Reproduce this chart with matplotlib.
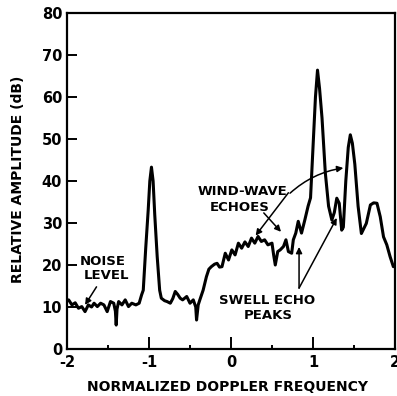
import matplotlib
matplotlib.use("Agg")
import matplotlib.pyplot as plt
from matplotlib.ticker import MultipleLocator

# ---- data ----
freq = [-2.00, -1.98, -1.94, -1.90, -1.86, -1.82, -1.78, -1.74, -1.70, -1.67,
        -1.63, -1.59, -1.55, -1.51, -1.47, -1.43, -1.41, -1.40, -1.39, -1.37,
        -1.33, -1.29, -1.25, -1.21, -1.16, -1.12, -1.09, -1.07, -1.04, -1.01,
        -0.99, -0.97, -0.95, -0.93, -0.90, -0.87, -0.85, -0.81, -0.78, -0.74,
        -0.71, -0.68, -0.65, -0.62, -0.59, -0.54, -0.50, -0.46, -0.43, -0.42,
        -0.40, -0.38, -0.34, -0.30, -0.27, -0.24, -0.20, -0.17, -0.14, -0.11,
        -0.07, -0.03, 0.01, 0.05, 0.09, 0.13, 0.17, 0.21, 0.25, 0.29,
        0.33, 0.37, 0.41, 0.45, 0.50, 0.52, 0.54, 0.57, 0.60, 0.64,
        0.67, 0.70, 0.74, 0.76, 0.79, 0.82, 0.86, 0.90, 0.94, 0.97,
        1.00, 1.03, 1.055, 1.08, 1.11, 1.15, 1.19, 1.23, 1.26, 1.29,
        1.32, 1.35, 1.37, 1.40, 1.43, 1.455, 1.48, 1.51, 1.55, 1.59,
        1.61, 1.65, 1.70, 1.74, 1.78, 1.82, 1.86, 1.90, 1.94, 1.98, 2.00]
amp = [11.5, 11.7, 10.5, 11.0, 9.7, 10.1, 8.9, 10.5, 10.0, 10.9,
       10.1, 10.9, 10.5, 8.9, 11.3, 10.9, 9.0, 5.7, 9.5, 11.3,
       10.5, 11.7, 10.1, 10.9, 10.5, 10.9, 12.9, 14.0, 24.0, 33.0,
       40.0, 43.3, 40.0, 32.0, 22.0, 14.0, 12.1, 11.5, 11.3, 10.9,
       12.0, 13.7, 13.0, 12.1, 11.7, 12.5, 10.9, 11.7, 10.0, 6.9,
       10.5, 11.7, 14.0, 17.2, 19.0, 19.6, 20.2, 20.4, 19.5, 19.6,
       22.8, 21.2, 23.6, 22.4, 25.2, 24.0, 25.5, 24.4, 26.4, 25.2,
       26.8, 25.6, 26.0, 24.8, 25.2, 22.4, 20.0, 23.2, 23.6, 24.4,
       26.0, 23.2, 22.8, 26.0, 27.6, 30.4, 27.6, 30.7, 34.0, 36.0,
       48.0, 60.0, 66.4, 62.0, 55.0, 42.0, 34.0, 30.7, 32.5, 35.9,
       34.7, 28.3, 29.0, 40.0, 48.0, 51.0, 49.0, 44.0, 34.0, 27.5,
       28.3, 29.9, 34.3, 34.8, 34.7, 31.5, 26.7, 24.8, 22.0, 19.6, 20.0]

xticks = [-2, -1, 0, 1, 2]
xticklabels = ["-2", "-1", "0", "1", "2"]
yticks = [0, 10, 20, 30, 40, 50, 60, 70, 80]

fig = plt.figure(figsize=(3.97, 3.96), dpi=100)
ax = fig.add_axes([67/397, 47/396, 328/397, 336/396])

ax.plot(freq, amp, color="black", lw=2.2, solid_joinstyle="round")

ax.set_xlim(-2, 2)
ax.set_ylim(0, 80)
ax.set_xticks(xticks)
ax.set_xticklabels(xticklabels)
ax.xaxis.set_minor_locator(MultipleLocator(0.5))
ax.set_yticks(yticks)

for s in ax.spines.values():
    s.set_linewidth(1.6)

ax.tick_params(axis="x", which="major", direction="in", length=8.5, width=1.4,
               pad=4.5, labelsize=10.5)
ax.tick_params(axis="x", which="minor", direction="in", length=3, width=1.4)
ax.tick_params(axis="y", which="major", direction="in", length=7, width=1.4,
               pad=3.5, labelsize=10.5)
for lab in ax.get_xticklabels() + ax.get_yticklabels():
    lab.set_fontweight("bold")

ax.set_xlabel("NORMALIZED DOPPLER FREQUENCY", fontsize=10, fontweight="bold",
              va="center")
ax.set_ylabel("RELATIVE AMPLITUDE (dB)", fontsize=10, fontweight="bold",
              va="center")
ax.xaxis.set_label_coords(0.49, -0.112)
ax.yaxis.set_label_coords(-0.149, 0.506)

tkw = dict(fontsize=9.5, fontweight="bold", ha="center", va="center")
ax.text(-1.567, 20.9, "NOISE", **tkw)
ax.text(-1.52, 17.4, "LEVEL", **tkw)
ax.text(0.14, 37.5, "WIND-WAVE", **tkw)
ax.text(0.11, 33.6, "ECHOES", **tkw)
ax.text(0.435, 11.5, "SWELL ECHO", **tkw)
ax.text(0.457, 8.0, "PEAKS", **tkw)

akw = dict(arrowstyle="-|>", color="black", lw=1.1, mutation_scale=9,
           shrinkA=0, shrinkB=0)
ax.annotate("", xy=(-1.78, 10.5), xytext=(-1.64, 14.8), arrowprops=akw)
ax.annotate("", xy=(1.37, 43.1), xytext=(0.72, 37.1),
            arrowprops=dict(akw, connectionstyle="arc3,rad=-0.15"))
ax.annotate("", xy=(0.30, 27.0), xytext=(0.70, 37.2), arrowprops=akw)
ax.annotate("", xy=(0.61, 27.9), xytext=(0.40, 32.4), arrowprops=akw)
ax.annotate("", xy=(0.83, 24.3), xytext=(0.83, 14.5), arrowprops=akw)
ax.annotate("", xy=(1.29, 31.2), xytext=(0.83, 14.5), arrowprops=akw)

fig.savefig("out.png", dpi=100)
